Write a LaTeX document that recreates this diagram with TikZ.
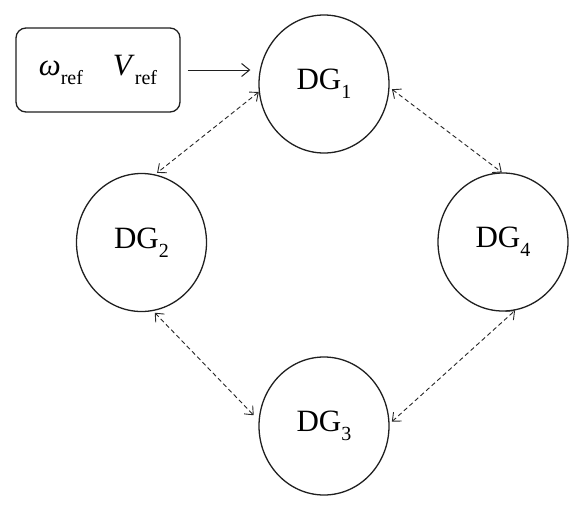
\documentclass[tikz,border=0pt]{standalone}
\usepackage{fontspec}
\setmainfont{Liberation Serif}
\usetikzlibrary{shapes.geometric,arrows.meta}
\newcommand\mysub[1]{\raisebox{-9pt}{\fontsize{20}{20}\selectfont #1}}
\begin{document}
\begin{tikzpicture}[x=1pt,y=-1pt,
  dgnode/.style={ellipse,draw=black!88,line width=1.3pt,minimum width=130pt,minimum height=138pt,inner sep=0pt,font=\fontsize{31}{31}\selectfont},
  refbox/.style={rectangle,rounded corners=10pt,draw=black!88,line width=1.3pt,minimum width=164pt,minimum height=84pt,inner sep=0pt,font=\fontsize{31}{31}\selectfont},
  link/.style={draw=black!85,line width=0.9pt,dash pattern=on 4.5pt off 3pt,{Straight Barb[length=7pt,width=12pt]}-{Straight Barb[length=7pt,width=12pt]}},
  feed/.style={draw=black!88,line width=1pt,-{Straight Barb[length=8pt,width=13pt]}}]
\useasboundingbox (0,0) rectangle (584,512);
\node[refbox] (ref) at (98,70) {\textit{ω}\mysub{ref}\hspace{30pt}\textit{V}\mysub{ref}};
\node[dgnode] (DG1) at (324,84) {DG\mysub{1}};
\node[dgnode] (DG2) at (141.5,242.5) {DG\mysub{2}};
\node[dgnode] (DG4) at (503,242) {DG\mysub{4}};
\node[dgnode] (DG3) at (324,426) {DG\mysub{3}};
\draw[feed,shorten <=7pt,shorten >=8pt] (ref.east |- 0,70) coordinate (rs) -- (rs -| DG1.west);
\draw[link] (DG1.187) -- ([shift={(0,-2)}]DG2.77);
\draw[link,shorten <=3pt] (DG1.-3) -- (DG4.91);
\draw[link,shorten >=7pt] ([shift={(0,2)}]DG2.-79) -- (DG3.175);
\draw[link,shorten <=3pt] (DG3.2.5) -- (DG4.-80);
\end{tikzpicture}
\end{document}
